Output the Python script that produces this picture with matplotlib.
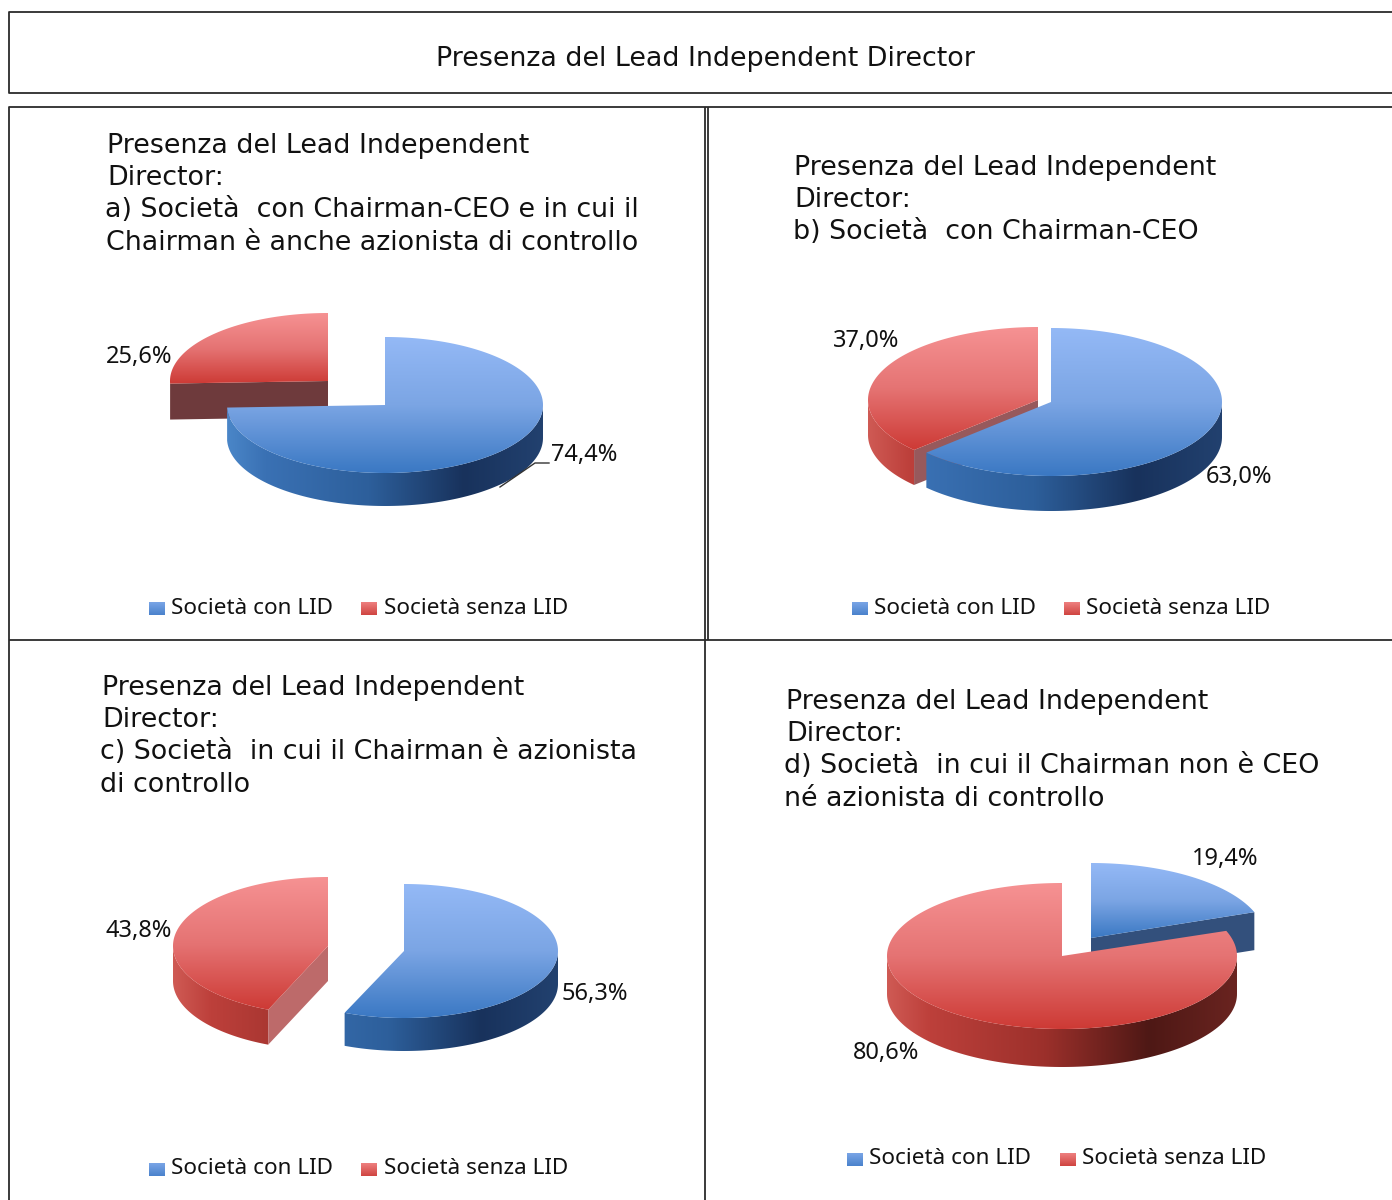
import numpy as np
import matplotlib
matplotlib.use('Agg')
import matplotlib.pyplot as plt
from matplotlib.colors import LinearSegmentedColormap
from matplotlib.patches import Polygon

# Data
main_title = 'Presenza del Lead Independent Director'
panel_titles = [
    ['Presenza del Lead Independent', 'Director:', 'a) Società  con Chairman-CEO e in cui il', 'Chairman è anche azionista di controllo'],
    ['Presenza del Lead Independent', 'Director:', 'b) Società  con Chairman-CEO'],
    ['Presenza del Lead Independent', 'Director:', 'c) Società  in cui il Chairman è azionista', 'di controllo'],
    ['Presenza del Lead Independent', 'Director:', 'd) Società  in cui il Chairman non è CEO', 'né azionista di controllo'],
]
series_names = ['Società con LID', 'Società senza LID']
con_lid = [74.4, 63.0, 56.3, 19.4]
senza_lid = [25.6, 37.0, 43.8, 80.6]

# Layout, in pixels of the 1392x1200 picture
title_pos = [
    [(107, 146), (107, 178), (105, 210), (106, 243)],
    [(794, 168), (794, 200), (793, 232)],
    [(102, 688), (102, 720), (100, 752), (100, 785)],
    [(786, 702), (786, 734), (784, 766), (784, 799)],
]
# (cx, cy, rx, ry, depth) for the blue and red slice
blue_geom = [(385, 405, 158, 68, 33), (1051, 402, 171, 74, 35), (404, 951, 154, 67, 33), (1091, 938, 174, 75, 38)]
red_geom = [(328, 381, 158, 68, 36), (1038, 400, 170, 73, 35), (328, 946, 155, 69, 35), (1062, 956, 175, 73, 38)]
cut_colors = ['#6e3a3c', '#97595c', '#bd6a6a', '#33507c']
blue_label_pos = [(584, 455), (1239, 477), (595, 994), (1225, 859)]
red_label_pos = [(139, 357), (866, 341), (139, 931), (886, 1053)]
legend_pos = [(149, 171, 361, 384, 608), (852, 874, 1064, 1086, 608), (149, 171, 361, 384, 1169), (847, 869, 1060, 1082, 1159)]

top_blue = LinearSegmentedColormap.from_list('tb', ['#94b9f6', '#7ba5e4', '#3a78c3'])
top_red = LinearSegmentedColormap.from_list('tr', ['#f69293', '#e57373', '#cd3a35'])
swatch_blue = LinearSegmentedColormap.from_list('sb', ['#7aa5e6', '#4a82cc'])
swatch_red = LinearSegmentedColormap.from_list('sr', ['#ee8080', '#cf4440'])
wall_blue = LinearSegmentedColormap.from_list('wb', [(0, '#4a86c8'), (0.12, '#3a71b4'), (0.45, '#2d5f9b'), (0.75, '#18325c'), (1, '#22416f')])
wall_red = LinearSegmentedColormap.from_list('wr', [(0, '#cf5a54'), (0.12, '#bd403b'), (0.45, '#9c302b'), (0.75, '#4e1815'), (1, '#6a2420')])

fig = plt.figure(figsize=(13.92, 12), dpi=100, facecolor='white')
ax = fig.add_axes([0, 0, 1, 1])
z = [2]


def gradient_fill(pts, cmap, extent, vertical=True):
    """Fill a polygon with a linear gradient"""
    z[0] += 1
    ramp = np.linspace(0, 1, 256)
    grad = ramp.reshape(-1, 1) if vertical else ramp.reshape(1, -1)
    im = ax.imshow(grad, cmap=cmap, extent=extent, aspect='auto', origin='upper',
                   interpolation='bilinear', vmin=0, vmax=1, zorder=z[0])
    im.set_clip_path(Polygon(pts, closed=True, transform=ax.transData))


def draw_slice(start, end, geom, top_cmap, wall_cmap, cut_color):
    """Draw one extruded pie slice, angles clockwise from 12 o'clock in degrees"""
    cx, cy, rx, ry, depth = geom

    def edge(theta):
        t = np.radians(theta)
        return np.column_stack([cx + rx * np.sin(t), cy - ry * np.cos(t)])

    # outer wall, only the front half is seen
    w0, w1 = max(start, 90), min(end, 270)
    if w1 > w0:
        arc = edge(np.linspace(w0, w1, 120))
        low = arc[::-1] + [0, depth]
        gradient_fill(np.vstack([arc, low]), wall_cmap,
                      (cx - rx, cx + rx, cy + ry + depth, cy - ry), vertical=False)

    # flat cut face, seen when it looks down at the viewer
    for theta, normal in [(start, start - 90), (end, end + 90)]:
        if -np.cos(np.radians(normal)) > 1e-6:
            p = edge(np.array([theta]))[0]
            z[0] += 1
            ax.add_patch(Polygon([(cx, cy), p, p + [0, depth], (cx, cy + depth)],
                                 closed=True, fc=cut_color, ec='none', zorder=z[0]))

    # top face
    arc = edge(np.linspace(start, end, 240))
    pts = np.vstack([[(cx, cy)], arc])
    gradient_fill(pts, top_cmap, (pts[:, 0].min(), pts[:, 0].max(), pts[:, 1].max(), pts[:, 1].min()))


def pct(v):
    return f'{v:.1f}'.replace('.', ',') + '%'


for i in range(4):
    blue_end = con_lid[i] / 100 * 360
    blue = (0, blue_end, blue_geom[i], top_blue, wall_blue, cut_colors[i])
    red = (blue_end, 360, red_geom[i], top_red, wall_red, cut_colors[i])
    # the bigger slice sits in front
    for s in ([red, blue] if con_lid[i] > senza_lid[i] else [blue, red]):
        draw_slice(*s)

    ax.text(*blue_label_pos[i], pct(con_lid[i]), ha='center', va='center', fontsize=17,
            family='Noto Sans', color='#111111', zorder=100)
    ax.text(*red_label_pos[i], pct(senza_lid[i]), ha='center', va='center', fontsize=17,
            family='Noto Sans', color='#111111', zorder=100)

    for line, (x, y) in zip(panel_titles[i], title_pos[i]):
        ax.text(x, y, line, ha='left', va='center', fontsize=19.4, color='#111111', zorder=100)

    x1, t1, x2, t2, y = legend_pos[i]
    gradient_fill([(x1, y - 6), (x1 + 16, y - 6), (x1 + 16, y + 7), (x1, y + 7)], swatch_blue, (x1, x1 + 16, y + 7, y - 6))
    gradient_fill([(x2, y - 6), (x2 + 16, y - 6), (x2 + 16, y + 7), (x2, y + 7)], swatch_red, (x2, x2 + 16, y + 7, y - 6))
    ax.text(t1, y, series_names[0], ha='left', va='center', fontsize=16.2, family='Noto Sans', color='#111111', zorder=100)
    ax.text(t2, y, series_names[1], ha='left', va='center', fontsize=16.2, family='Noto Sans', color='#111111', zorder=100)

# leader line of the 74,4% label
ax.plot([500, 535, 549], [487, 463, 463], color='#333333', lw=1, zorder=99)

ax.text(705, 59, main_title, ha='center', va='center', fontsize=19.4, color='#111111')

# frames
frame = dict(color='#2b2b2b', lw=1.3, solid_capstyle='butt', zorder=101)
ax.plot([1392, 9, 9, 1392], [12, 12, 93, 93], **frame)
ax.plot([1392, 9, 9], [107, 107, 1200], **frame)
ax.plot([9, 1392], [640, 640], **frame)
ax.plot([704.5, 704.5], [107, 1200], **frame)
ax.plot([708, 708], [107, 640], **frame)

ax.set_xlim(0, 1392)
ax.set_ylim(1200, 0)
ax.axis('off')

fig.savefig('out.png', dpi=100, facecolor='white')
